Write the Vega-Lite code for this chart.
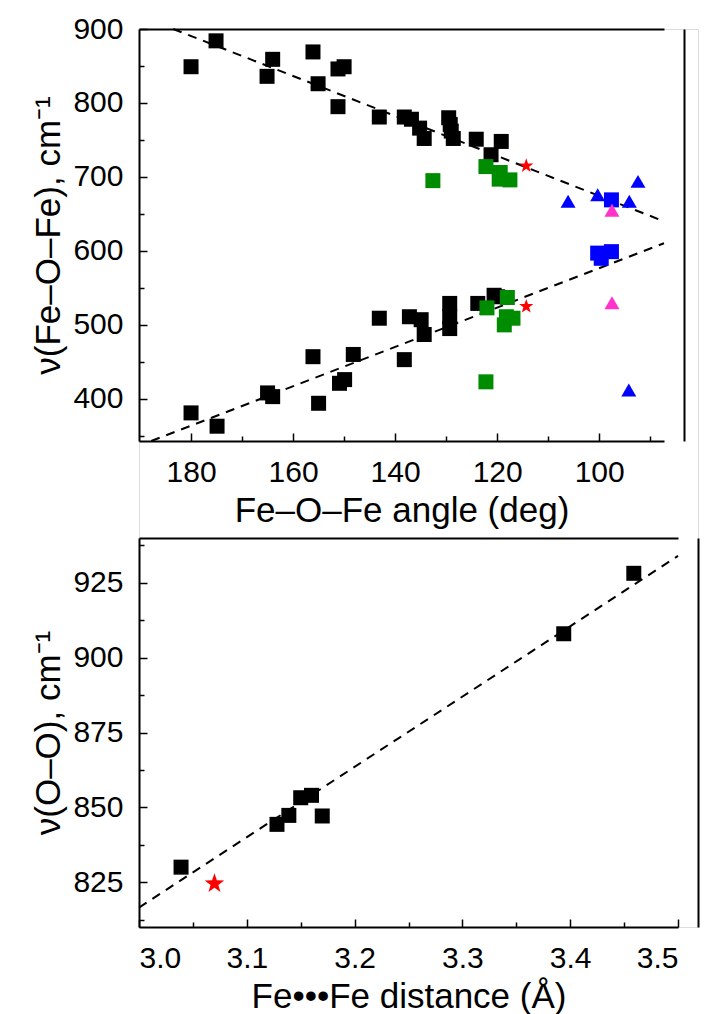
{
  "$schema": "https://vega.github.io/schema/vega-lite/v6.json",
  "autosize": {"type": "fit", "contains": "padding"},
  "width": 705,
  "height": 1014,
  "padding": {"left": 31, "top": 14, "right": 7, "bottom": 0},
  "resolve": {"scale": {"x": "independent", "y": "independent"}},
  "layer": [
    {
      "resolve": {"axis": {"x": "independent", "y": "independent"}},
      "layer": [
        {
          "data": {"values": [
            {"angle": 183.5, "freq": 900, "line": "a"},
            {"angle": 87.3, "freq": 640, "line": "a"},
            {"angle": 187.8, "freq": 343, "line": "b"},
            {"angle": 87.3, "freq": 610.4, "line": "b"}
          ]},
          "mark": {"type": "line", "color": "black", "strokeDash": [9, 7], "strokeWidth": 2},
          "encoding": {
            "x": {"field": "angle", "type": "quantitative",
              "scale": {"domain": [87.3, 190.2], "range": [525, 0], "nice": false, "zero": false},
              "axis": {"orient": "top", "offset": 0, "labels": false, "ticks": false, "title": null, "grid": false, "domain": true, "domainColor": "black", "domainWidth": 2}},
            "y": {"field": "freq", "type": "quantitative",
              "scale": {"domain": [343, 900], "range": [412, 0], "nice": false, "zero": false},
              "axis": {"orient": "right", "offset": -14, "labels": false, "ticks": false, "title": null, "grid": false, "domain": true, "domainColor": "black", "domainWidth": 2}},
            "detail": {"field": "line", "type": "nominal"}
          }
        },
        {
          "data": {"values": [
            {"angle": 180, "freq": 849, "group": "black"},
            {"angle": 175.1, "freq": 884, "group": "black"},
            {"angle": 164, "freq": 859, "group": "black"},
            {"angle": 165.1, "freq": 836, "group": "black"},
            {"angle": 156.1, "freq": 869, "group": "black"},
            {"angle": 155.1, "freq": 826, "group": "black"},
            {"angle": 151.2, "freq": 846, "group": "black"},
            {"angle": 150, "freq": 849, "group": "black"},
            {"angle": 151.2, "freq": 795, "group": "black"},
            {"angle": 143.1, "freq": 781, "group": "black"},
            {"angle": 138.2, "freq": 781, "group": "black"},
            {"angle": 136.8, "freq": 778, "group": "black"},
            {"angle": 135.2, "freq": 766, "group": "black"},
            {"angle": 134.3, "freq": 752, "group": "black"},
            {"angle": 129.5, "freq": 780, "group": "black"},
            {"angle": 129.2, "freq": 771, "group": "black"},
            {"angle": 129, "freq": 762, "group": "black"},
            {"angle": 128.6, "freq": 752, "group": "black"},
            {"angle": 124.1, "freq": 751, "group": "black"},
            {"angle": 119.2, "freq": 748, "group": "black"},
            {"angle": 121.2, "freq": 730, "group": "black"},
            {"angle": 180, "freq": 381, "group": "black"},
            {"angle": 174.9, "freq": 363, "group": "black"},
            {"angle": 165, "freq": 408, "group": "black"},
            {"angle": 164, "freq": 403, "group": "black"},
            {"angle": 156.1, "freq": 457, "group": "black"},
            {"angle": 155, "freq": 394, "group": "black"},
            {"angle": 150.9, "freq": 421, "group": "black"},
            {"angle": 149.9, "freq": 426, "group": "black"},
            {"angle": 148.2, "freq": 460, "group": "black"},
            {"angle": 143.1, "freq": 509, "group": "black"},
            {"angle": 138.2, "freq": 453, "group": "black"},
            {"angle": 137.2, "freq": 511, "group": "black"},
            {"angle": 134.9, "freq": 507, "group": "black"},
            {"angle": 134.3, "freq": 487, "group": "black"},
            {"angle": 129.3, "freq": 529, "group": "black"},
            {"angle": 129.3, "freq": 511, "group": "black"},
            {"angle": 129.3, "freq": 495, "group": "black"},
            {"angle": 123.8, "freq": 529, "group": "black"},
            {"angle": 120.6, "freq": 540, "group": "black"},
            {"angle": 119.9, "freq": 538, "group": "black"},
            {"angle": 132.6, "freq": 695, "group": "green"},
            {"angle": 122.2, "freq": 714, "group": "green"},
            {"angle": 119.4, "freq": 706, "group": "green"},
            {"angle": 117.5, "freq": 696, "group": "green"},
            {"angle": 119.6, "freq": 697, "group": "green"},
            {"angle": 122.2, "freq": 423, "group": "green"},
            {"angle": 122, "freq": 523, "group": "green"},
            {"angle": 118, "freq": 537, "group": "green"},
            {"angle": 118.2, "freq": 511, "group": "green"},
            {"angle": 116.9, "freq": 509, "group": "green"},
            {"angle": 118.6, "freq": 500, "group": "green"},
            {"angle": 97.6, "freq": 669, "group": "bluesq"},
            {"angle": 100.3, "freq": 597, "group": "bluesq"},
            {"angle": 97.6, "freq": 599, "group": "bluesq"},
            {"angle": 99.6, "freq": 590, "group": "bluesq"}
          ]},
          "mark": {"type": "point", "filled": true, "opacity": 1},
          "encoding": {
            "x": {"field": "angle", "type": "quantitative",
              "scale": {"domain": [87.3, 190.2], "range": [525, 0], "nice": false, "zero": false},
              "axis": {"orient": "bottom", "offset": -486, "title": "Fe–O–Fe angle (deg)", "values": [100, 120, 140, 160, 180], "grid": false, "domain": true, "domainColor": "black", "domainWidth": 2, "ticks": true, "tickSize": -8, "tickColor": "black", "tickWidth": 1.5, "labelPadding": 24, "labelFont": "Liberation Sans", "labelFontSize": 30, "labelColor": "black", "titleFont": "Liberation Sans", "titleFontSize": 35, "titleFontWeight": "normal", "titleColor": "black", "titlePadding": 6}},
            "y": {"field": "freq", "type": "quantitative",
              "scale": {"domain": [343, 900], "range": [412, 0], "nice": false, "zero": false},
              "axis": {"orient": "left", "offset": 0, "title": "ν(Fe–O–Fe), cm⁻¹", "values": [400, 500, 600, 700, 800, 900], "grid": false, "domain": true, "domainColor": "black", "domainWidth": 2, "ticks": true, "tickSize": -8, "tickColor": "black", "tickWidth": 1.5, "labelPadding": 24, "labelFont": "Liberation Sans", "labelFontSize": 30, "labelColor": "black", "titleFont": "Liberation Sans", "titleFontSize": 35, "titleFontWeight": "normal", "titleColor": "black", "titlePadding": 6}},
            "shape": {"field": "group", "type": "nominal", "legend": null,
              "scale": {"domain": ["black", "green", "bluesq", "bluetri", "pinktri", "star"], "range": ["square", "square", "square", "triangle-up", "triangle-up", "M0,-1L0.235,-0.324L0.951,-0.309L0.38,0.124L0.588,0.809L0,0.4L-0.588,0.809L-0.38,0.124L-0.951,-0.309L-0.235,-0.324Z"]}},
            "color": {"field": "group", "type": "nominal", "legend": null,
              "scale": {"domain": ["black", "green", "bluesq", "bluetri", "pinktri", "star"], "range": ["#000000", "#008c00", "#0000ff", "#0000ff", "#ff33cc", "#ff0000"]}},
            "size": {"field": "group", "type": "nominal", "legend": null,
              "scale": {"domain": ["black", "green", "bluesq", "bluetri", "pinktri", "star"], "range": [225, 225, 225, 300, 300, 420]}}
          }
        },
        {
          "data": {"values": [
            {"angle": 106.1, "freq": 667, "group": "bluetri"},
            {"angle": 100.3, "freq": 676, "group": "bluetri"},
            {"angle": 94.1, "freq": 667, "group": "bluetri"},
            {"angle": 92.4, "freq": 694, "group": "bluetri"},
            {"angle": 94.2, "freq": 412, "group": "bluetri"},
            {"angle": 97.5, "freq": 655, "group": "pinktri"},
            {"angle": 97.5, "freq": 530, "group": "pinktri"},
            {"angle": 114.3, "freq": 715, "group": "star"},
            {"angle": 114.3, "freq": 525, "group": "star"}
          ]},
          "mark": {"type": "point", "filled": true, "opacity": 1},
          "encoding": {
            "x": {"field": "angle", "type": "quantitative",
              "scale": {"domain": [87.3, 190.2], "range": [525, 0], "nice": false, "zero": false},
              "axis": {"orient": "bottom", "offset": -486, "title": null, "labels": false, "values": [90, 110, 130, 150, 170], "grid": false, "domain": false, "ticks": true, "tickSize": -5, "tickColor": "black", "tickWidth": 1.5}},
            "y": {"field": "freq", "type": "quantitative",
              "scale": {"domain": [343, 900], "range": [412, 0], "nice": false, "zero": false},
              "axis": {"orient": "left", "offset": 0, "title": null, "labels": false, "values": [350, 450, 550, 650, 750, 850], "grid": false, "domain": false, "ticks": true, "tickSize": -5, "tickColor": "black", "tickWidth": 1.5}},
            "shape": {"field": "group", "type": "nominal", "legend": null,
              "scale": {"domain": ["black", "green", "bluesq", "bluetri", "pinktri", "star"], "range": ["square", "square", "square", "triangle-up", "triangle-up", "M0,-1L0.235,-0.324L0.951,-0.309L0.38,0.124L0.588,0.809L0,0.4L-0.588,0.809L-0.38,0.124L-0.951,-0.309L-0.235,-0.324Z"]}},
            "color": {"field": "group", "type": "nominal", "legend": null,
              "scale": {"domain": ["black", "green", "bluesq", "bluetri", "pinktri", "star"], "range": ["#000000", "#008c00", "#0000ff", "#0000ff", "#ff33cc", "#ff0000"]}},
            "size": {"field": "group", "type": "nominal", "legend": null,
              "scale": {"domain": ["black", "green", "bluesq", "bluetri", "pinktri", "star"], "range": [225, 225, 225, 300, 300, 420]}}
          }
        }
      ]
    },
    {
      "resolve": {"axis": {"x": "independent", "y": "independent"}},
      "layer": [
        {
          "data": {"values": [
            {"dist": 3.0, "freq": 816.5},
            {"dist": 3.5, "freq": 934}
          ]},
          "mark": {"type": "line", "color": "black", "strokeDash": [9, 7], "strokeWidth": 2},
          "encoding": {
            "x": {"field": "dist", "type": "quantitative",
              "scale": {"domain": [3.0, 3.5], "range": [0, 539], "nice": false, "zero": false},
              "axis": {"orient": "top", "offset": -509, "labels": false, "ticks": false, "title": null, "grid": false, "domain": true, "domainColor": "black", "domainWidth": 2}},
            "y": {"field": "freq", "type": "quantitative",
              "scale": {"domain": [810, 940], "range": [898, 509], "nice": false, "zero": false},
              "axis": {"orient": "right", "offset": 0, "labels": false, "ticks": false, "title": null, "grid": false, "domain": true, "domainColor": "black", "domainWidth": 2}}
          }
        },
        {
          "data": {"values": [
            {"dist": 3.039, "freq": 830, "group": "black"},
            {"dist": 3.128, "freq": 844.3, "group": "black"},
            {"dist": 3.139, "freq": 847.3, "group": "black"},
            {"dist": 3.150, "freq": 853.2, "group": "black"},
            {"dist": 3.160, "freq": 854, "group": "black"},
            {"dist": 3.170, "freq": 847.1, "group": "black"},
            {"dist": 3.394, "freq": 908, "group": "black"},
            {"dist": 3.459, "freq": 928.2, "group": "black"}
          ]},
          "mark": {"type": "point", "shape": "square", "filled": true, "opacity": 1, "size": 225, "color": "#000000"},
          "encoding": {
            "x": {"field": "dist", "type": "quantitative",
              "scale": {"domain": [3.0, 3.5], "range": [0, 539], "nice": false, "zero": false},
              "axis": {"orient": "bottom", "offset": 0, "title": "Fe•••Fe distance (Å)", "values": [3.0, 3.1, 3.2, 3.3, 3.4, 3.5], "format": ".1f", "grid": false, "domain": true, "domainColor": "black", "domainWidth": 2, "ticks": true, "tickSize": -8, "tickColor": "black", "tickWidth": 1.5, "labelPadding": 24, "labelFont": "Liberation Sans", "labelFontSize": 30, "labelColor": "black", "titleFont": "Liberation Sans", "titleFontSize": 35, "titleFontWeight": "normal", "titleColor": "black", "titlePadding": 6}},
            "y": {"field": "freq", "type": "quantitative",
              "scale": {"domain": [810, 940], "range": [898, 509], "nice": false, "zero": false},
              "axis": {"orient": "left", "offset": 0, "title": "ν(O–O), cm⁻¹", "values": [825, 850, 875, 900, 925], "grid": false, "domain": true, "domainColor": "black", "domainWidth": 2, "ticks": true, "tickSize": -8, "tickColor": "black", "tickWidth": 1.5, "labelPadding": 24, "labelFont": "Liberation Sans", "labelFontSize": 30, "labelColor": "black", "titleFont": "Liberation Sans", "titleFontSize": 35, "titleFontWeight": "normal", "titleColor": "black", "titlePadding": 6}}
          }
        },
        {
          "data": {"values": [
            {"dist": 3.070, "freq": 824.5, "group": "star"}
          ]},
          "mark": {"type": "point", "shape": "M0,-1L0.235,-0.324L0.951,-0.309L0.38,0.124L0.588,0.809L0,0.4L-0.588,0.809L-0.38,0.124L-0.951,-0.309L-0.235,-0.324Z", "filled": true, "opacity": 1, "size": 420, "color": "#ff0000"},
          "encoding": {
            "x": {"field": "dist", "type": "quantitative",
              "scale": {"domain": [3.0, 3.5], "range": [0, 539], "nice": false, "zero": false},
              "axis": {"orient": "bottom", "offset": 0, "title": null, "labels": false, "values": [3.05, 3.15, 3.25, 3.35, 3.45], "grid": false, "domain": false, "ticks": true, "tickSize": -5, "tickColor": "black", "tickWidth": 1.5}},
            "y": {"field": "freq", "type": "quantitative",
              "scale": {"domain": [810, 940], "range": [898, 509], "nice": false, "zero": false},
              "axis": {"orient": "left", "offset": 0, "title": null, "labels": false, "values": [812.5, 837.5, 862.5, 887.5, 912.5, 937.5], "grid": false, "domain": false, "ticks": true, "tickSize": -5, "tickColor": "black", "tickWidth": 1.5}}
          }
        }
      ]
    }
  ]
}
